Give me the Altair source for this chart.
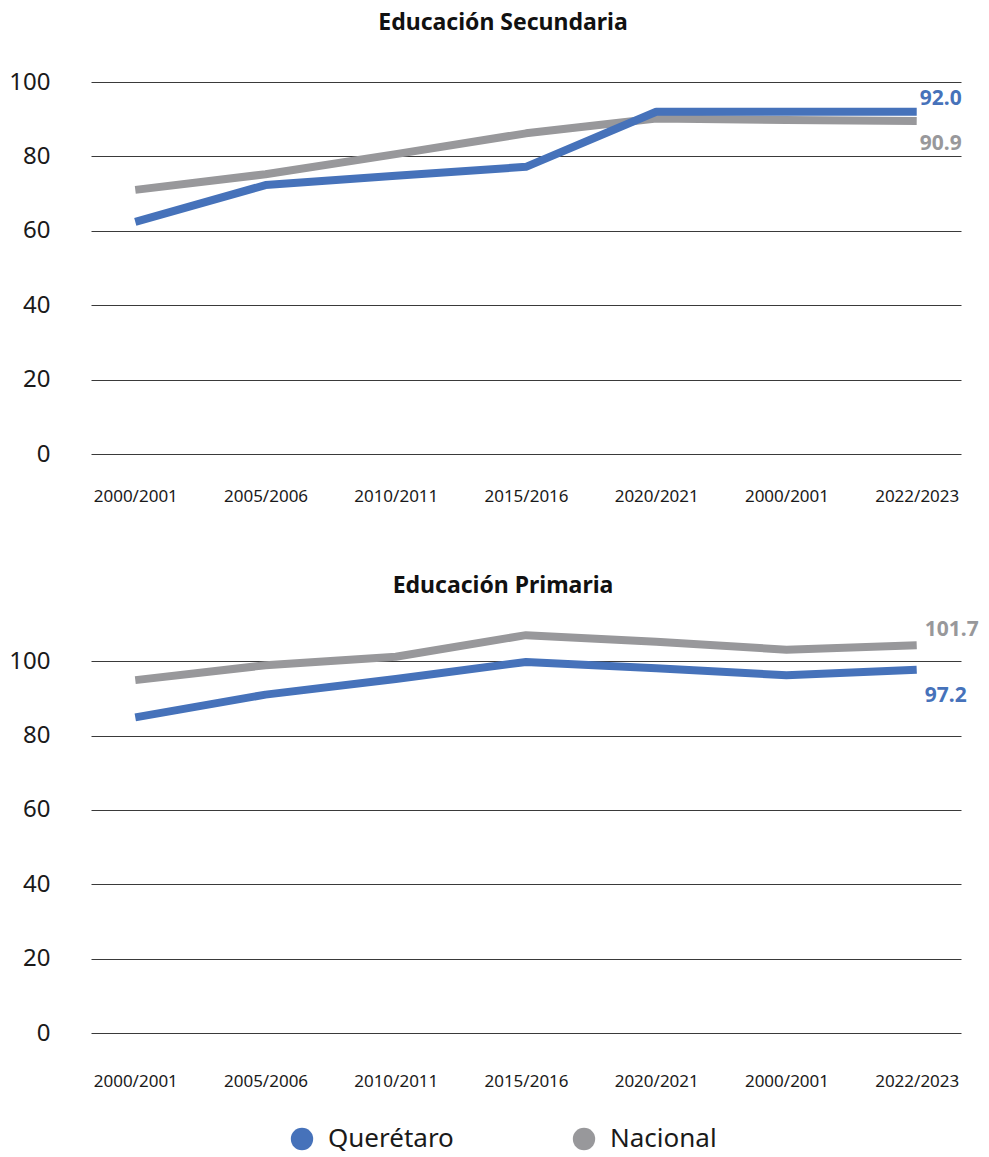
import altair as alt
import pandas as pd

# ---------------- data ----------------
periods = ["2000/2001", "2005/2006", "2010/2011", "2015/2016",
           "2020/2021", "2000/2001", "2022/2023"]
series_names = ["Querétaro", "Nacional"]
series_colors = ["#4672ba", "#98989b"]

sec_qro = [62.4, 72.3, 74.8, 77.2, 92.0, 92.0, 92.0]
sec_nac = [71.0, 75.2, 80.6, 86.2, 90.2, 89.8, 89.5]
sec_labels = ["92.0", "90.9"]

pri_qro = [84.9, 91.0, 95.2, 99.8, 98.1, 96.2, 97.7]
pri_nac = [94.9, 98.9, 101.2, 107.0, 105.2, 103.1, 104.3]
pri_labels = ["97.2", "101.7"]

y_ticks = [0, 20, 40, 60, 80, 100]

FONT = "Noto Sans"
label_expr = "[" + ",".join(f"'{p}'" for p in periods) + "][datum.value]"


def series_df(name, values):
    return pd.DataFrame({"idx": list(range(len(periods))),
                         "serie": [name] * len(values),
                         "valor": values})


def panel(title, qro, nac, labels, ymax, height, qro_dy, nac_dy, dxs,
          title_offset, xlab_pad):
    x = alt.X("idx:O",
              scale=alt.Scale(type="point", padding=0.34),
              axis=alt.Axis(title=None, labelExpr=label_expr, labelAngle=0,
                            domain=False, ticks=False, grid=False,
                            labelFontSize=17, labelPadding=xlab_pad,
                            labelColor="#1a1a1a", labelFont=FONT))
    y = alt.Y("valor:Q",
              scale=alt.Scale(domain=[0, ymax], nice=False, zero=True),
              axis=alt.Axis(title=None, values=y_ticks, domain=False,
                            ticks=False, grid=True, gridColor="#3a3a3a",
                            gridWidth=1, labelFontSize=24, labelPadding=41,
                            labelColor="#1a1a1a", labelFont=FONT))
    color_nolegend = alt.Color("serie:N",
                               scale=alt.Scale(domain=series_names,
                                               range=series_colors),
                               legend=None)
    color_legend = alt.Color("serie:N",
                             scale=alt.Scale(domain=series_names,
                                             range=series_colors),
                             legend=alt.Legend(title=None))

    df_q = series_df(series_names[0], qro)
    df_n = series_df(series_names[1], nac)

    legend_layer = alt.Chart(pd.concat([df_q, df_n])).transform_filter(
        "false").mark_circle(opacity=1).encode(color=color_legend)

    line_n = alt.Chart(df_n).mark_line(strokeWidth=8, strokeCap="butt",
                                       strokeJoin="round").encode(
        x=x, y=y, color=color_nolegend)
    line_q = alt.Chart(df_q).mark_line(strokeWidth=8, strokeCap="butt",
                                       strokeJoin="round").encode(
        x=x, y=y, color=color_nolegend)

    lab_q = pd.DataFrame({"idx": [len(periods) - 1], "valor": [qro[-1]],
                          "txt": [labels[0]]})
    lab_n = pd.DataFrame({"idx": [len(periods) - 1], "valor": [nac[-1]],
                          "txt": [labels[1]]})
    text_q = alt.Chart(lab_q).mark_text(
        align="left", baseline="middle", dx=dxs[0], dy=qro_dy,
        fontSize=21, fontWeight="bold", font=FONT,
        color=series_colors[0]).encode(x=x, y=y, text="txt:N")
    text_n = alt.Chart(lab_n).mark_text(
        align="left", baseline="middle", dx=dxs[1], dy=nac_dy,
        fontSize=21, fontWeight="bold", font=FONT,
        color=series_colors[1]).encode(x=x, y=y, text="txt:N")

    return alt.layer(legend_layer, line_n, line_q, text_n, text_q).properties(
        width=870, height=height,
        title=alt.TitleParams(title, font=FONT, fontSize=23,
                              fontWeight="bold", color="#111111",
                              anchor="middle", frame="group", dx=-23,
                              offset=title_offset))


top = panel("Educación Secundaria", sec_qro, sec_nac, sec_labels,
            100, 372, -13, 23, [3, 3], 35, 34)
bottom = panel("Educación Primaria", pri_qro, pri_nac, pri_labels,
               110, 409, 26, -15, [8, 8], 21, 40)

chart = alt.vconcat(top, bottom, spacing=71).resolve_scale(
    color="shared"
).configure_view(stroke=None).configure_legend(
    orient="none", legendX=198, legendY=1044, direction="horizontal",
    symbolType="circle", symbolSize=500, symbolStrokeWidth=0,
    labelFontSize=26, labelFont=FONT, labelColor="#1a1a1a",
    labelOffset=13, columnPadding=117, symbolOpacity=1, padding=0
).properties(padding={"left": 0, "top": 4, "right": 0, "bottom": 0})

chart.save("out.html", embed_options={"renderer": "svg", "actions": False})
